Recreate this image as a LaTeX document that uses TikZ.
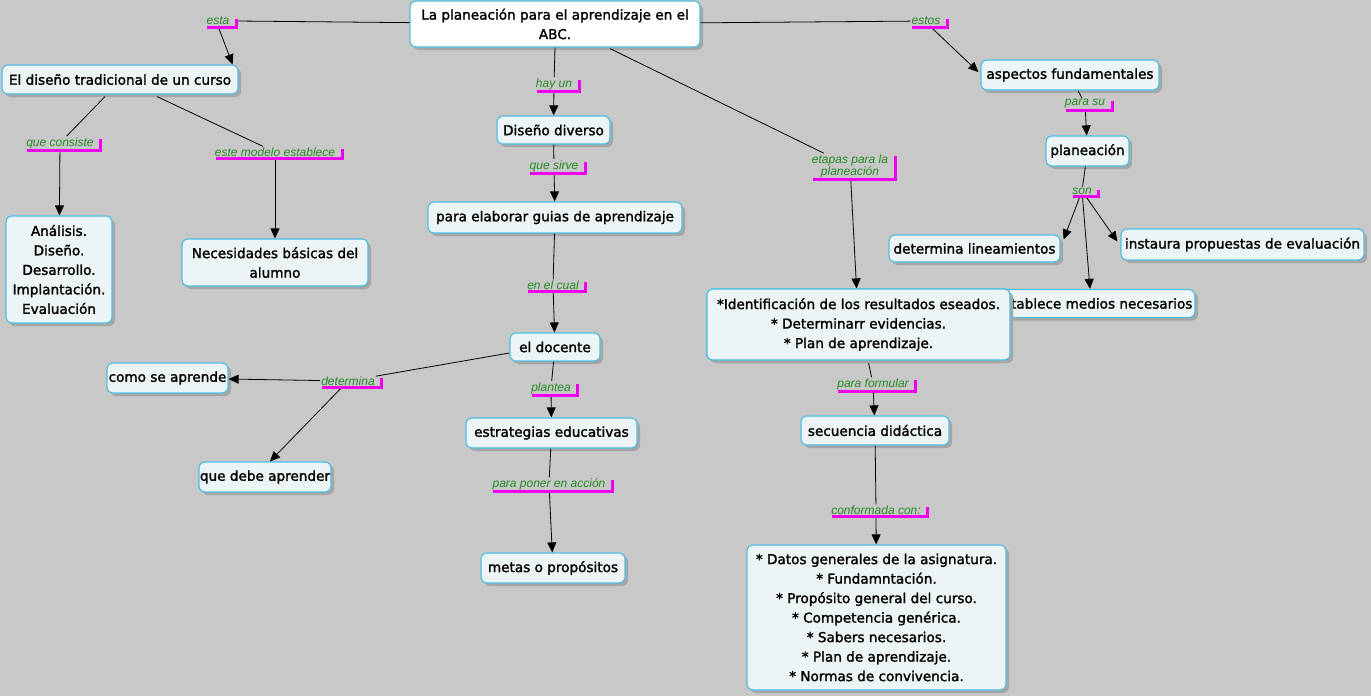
\documentclass[tikz,border=0pt]{standalone}
\usepackage{fontspec}
\setmainfont{DejaVu Sans}[FakeBold=1.6]
\newfontfamily\labfont{Liberation Sans}
\usetikzlibrary{arrows.meta,shadows,calc}
\definecolor{bgc}{RGB}{200,200,200}
\definecolor{cborder}{RGB}{80,190,225}
\definecolor{cfill}{RGB}{237,244,246}
\definecolor{lgreen}{RGB}{34,139,34}
\definecolor{magc}{RGB}{238,0,238}
\newcommand\magbr[1]{\draw[magbar] ([xshift=2pt,yshift=-1pt]#1.south west) -- ([xshift=6pt,yshift=-1pt]#1.south east) -- ([xshift=6pt,yshift=-3pt]#1.north east);}
\begin{document}
\begin{tikzpicture}[x=1pt,y=-1pt,
  concept/.style={draw=cborder, line width=1.2pt, fill=cfill, rounded corners=6pt, align=center,
     inner sep=1pt, font=\fontsize{13.6}{19.5}\selectfont,
     drop shadow={shadow xshift=3pt, shadow yshift=-3pt, fill=black!35, opacity=1}},
  lab/.style={font=\labfont\itshape\fontsize{12}{12}\selectfont, text=lgreen, inner sep=1pt, align=center},
  magbar/.style={draw=magc, line width=3pt, line join=miter},
  conn/.style={draw=black, line width=0.8pt},
  arr/.style={conn, -{Triangle[length=10pt,width=9pt]}}]
\fill[bgc] (0,0) rectangle (1371,696);
\useasboundingbox (0,0) rectangle (1371,696);
% concepts
\node[concept, fill=white, minimum width=290pt, minimum height=46pt] (root) at (555,24) {La planeación para el aprendizaje en el\\ABC.};
\node[concept, minimum width=236pt, minimum height=29pt] (dtrad) at (120,79.5) {El diseño tradicional de un curso};
\node[concept, minimum width=106pt, minimum height=107pt] (anal) at (59,269.5) {Análisis.\\Diseño.\\Desarrollo.\\Implantación.\\Evaluación};
\node[concept, minimum width=186pt, minimum height=47pt] (neces) at (275,262.5) {Necesidades básicas del\\alumno};
\node[concept, minimum width=113pt, minimum height=28pt] (ddiv) at (553.5,130) {Diseño diverso};
\node[concept, minimum width=254pt, minimum height=31pt] (elab) at (555,217.5) {para elaborar guias de aprendizaje};
\node[concept, minimum width=90pt, minimum height=28pt] (docente) at (555,347) {el docente};
\node[concept, minimum width=121pt, minimum height=30pt] (como) at (167.5,378) {como se aprende};
\node[concept, minimum width=130pt, minimum height=30pt] (quedebe) at (265,477) {que debe aprender};
\node[concept, minimum width=171pt, minimum height=30pt] (estrat) at (551.5,433) {estrategias educativas};
\node[concept, minimum width=144pt, minimum height=30pt] (metas) at (553,568) {metas o propósitos};
\node[concept, minimum width=178pt, minimum height=30pt] (aspectos) at (1070,75) {aspectos fundamentales};
\node[concept, minimum width=83pt, minimum height=30pt] (planea) at (1087.5,151) {planeación};
\node[concept, minimum width=171pt, minimum height=27pt] (determ) at (974.5,248.5) {determina lineamientos};
\node[concept, minimum width=243pt, minimum height=31pt] (instaura) at (1242.5,244.5) {instaura propuestas de evaluación};
\node[concept, minimum width=202pt, minimum height=28pt] (establece) at (1094,303.5) {establece medios necesarios};
\node[concept, minimum width=303pt, minimum height=71pt] (ident) at (858.5,324.5) {*Identificación de los resultados eseados.\\* Determinarr evidencias.\\* Plan de aprendizaje.};
\node[concept, minimum width=148pt, minimum height=29pt] (secuencia) at (875,430.5) {secuencia didáctica};
\node[concept, minimum width=259pt, minimum height=145pt] (datos) at (876.5,617.5) {* Datos generales de la asignatura.\\* Fundamntación.\\* Propósito general del curso.\\* Competencia genérica.\\* Sabers necesarios.\\* Plan de aprendizaje.\\* Normas de convivencia.};
% labels
\node[lab] (esta) at (218,21) {esta};
\node[lab] (estos) at (926,21) {estos};
\node[lab] (hayun) at (554,84) {hay un};
\node[lab] (quesirve) at (554,166) {que sirve};
\node[lab] (enelcual) at (553,285) {en el cual};
\node[lab] (plantea) at (551,388) {plantea};
\node[lab] (paraponer) at (549,484) {para poner en acción};
\node[lab] (determina) at (348,381) {determina};
\node[lab] (quecon) at (60,143) {que consiste};
\node[lab] (estemod) at (275,152) {este modelo establece};
\node[lab] (etapas) at (850,166) {etapas para la\\planeación};
\node[lab] (parasu) at (1085,104) {para su};
\node[lab] (son) at (1082,191) {son};
\node[lab] (parafor) at (873,384) {para formular};
\node[lab] (conform) at (876,510) {conformada con:};
% connectors
\draw[conn] (root) -- ([xshift=6pt]esta.east);
\draw[arr] (esta.south) -- ($(dtrad.north east)+(-6,0)$);
\draw[conn] (root) -- (estos);
\draw[arr] ($(estos.south)+(6,2)$) -- ($(aspectos.west)+(-2,-3)$);
\draw[conn] (root.south) -- (hayun);
\draw[arr] (hayun) -- (ddiv);
\draw[conn] ($(root.south)+(55,1)$) -- (etapas);
\draw[arr] (etapas) -- (ident);
\draw[conn] ($(dtrad.south)+(-15,2)$) -- (quecon);
\draw[arr] (quecon) -- (anal);
\draw[conn] ($(dtrad.south)+(37,2)$) -- (estemod);
\draw[arr] (estemod) -- (estemod |- neces.north);
\draw[conn] (ddiv) -- (quesirve);
\draw[arr] (quesirve) -- (elab);
\draw[conn] (elab) -- (enelcual);
\draw[arr] (enelcual) -- (docente);
\draw[conn] ($(docente.west)+(0,6)$) -- (determina);
\draw[arr] (determina) -- (como);
\draw[arr] (determina) -- ($(quedebe.north)+(5,0)$);
\draw[conn] (docente) -- (plantea);
\draw[arr] (plantea) -- (estrat);
\draw[conn] (estrat) -- (paraponer);
\draw[arr] (paraponer) -- (metas);
\draw[conn] (aspectos) -- (parasu);
\draw[arr] (parasu) -- (planea);
\draw[conn] (planea) -- (son);
\draw[arr] (son) -- ($(determ.north east)+(3,5)$);
\draw[arr] (son) -- ($(establece.north)+(-4,0)$);
\draw[arr] (son) -- ($(instaura.west)+(-3,-3)$);
\draw[conn] ($(ident.south)+(10,2)$) -- (parafor);
\draw[arr] (parafor) -- (secuencia);
\draw[conn] (secuencia) -- (conform);
\draw[arr] (conform) -- (datos);
% redraw overlapping box on top
\node[concept, minimum width=303pt, minimum height=71pt] at (858.5,324.5) {*Identificación de los resultados eseados.\\* Determinarr evidencias.\\* Plan de aprendizaje.};
% magenta brackets
\magbr{esta}\magbr{estos}\magbr{hayun}\magbr{quesirve}\magbr{enelcual}\magbr{plantea}
\magbr{paraponer}\magbr{determina}\magbr{quecon}\magbr{estemod}\magbr{etapas}
\magbr{parasu}\magbr{son}\magbr{parafor}\magbr{conform}
\end{tikzpicture}
\end{document}
